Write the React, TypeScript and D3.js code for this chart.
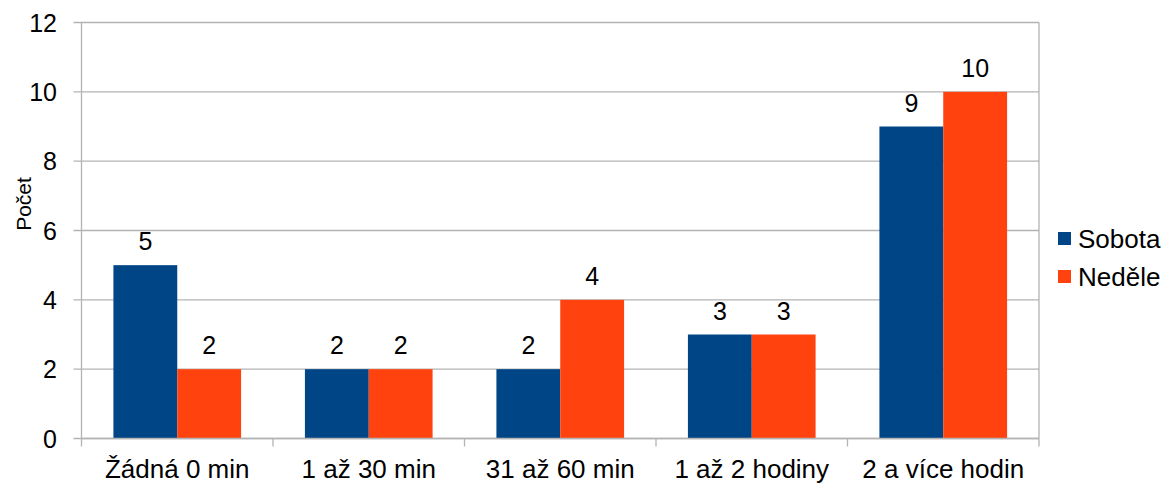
import React from "react";
import * as d3 from "d3";

const categories = ["Žádná 0 min", "1 až 30 min", "31 až 60 min", "1 až 2 hodiny", "2 a více hodin"];
const sobota = [5, 2, 2, 3, 9];
const nedele = [2, 2, 4, 3, 10];
const seriesNames = ["Sobota", "Neděle"];
const yTicks = [0, 2, 4, 6, 8, 10, 12];
const yTitle = "Počet";

const W = 1164;
const H = 484;
const left = 81.5;
const right = 1039;
const top = 22.5;
const bottom = 438.5;
const colors = ["#004586", "#ff420e"];
const grid = "#b3b3b3";
const font = "'Liberation Sans', Arial, sans-serif";

export default function App() {
  const x = d3.scaleBand<string>().domain(categories).range([left, right]).paddingInner(0).paddingOuter(0);
  const y = d3.scaleLinear().domain([0, 12]).range([bottom, top]);
  const bw = x.bandwidth();
  const inner = d3.scaleBand<string>().domain(seriesNames).range([bw / 6, (bw * 5) / 6]);
  const series = [sobota, nedele];

  return (
    <svg width={W} height={H} style={{ position: "absolute", left: 0, top: 0 }} fontFamily={font}>
      <rect width={W} height={H} fill="#fff" />
      {yTicks.map((t) => (
        <g key={t}>
          <line x1={left - 8} x2={right} y1={y(t)} y2={y(t)} stroke={grid} strokeWidth={1.3} />
          <text x={57} y={y(t)} dy="0.36em" textAnchor="end" fontSize={25} fill="#000">
            {t}
          </text>
        </g>
      ))}
      <line x1={left} x2={left} y1={top} y2={bottom} stroke={grid} strokeWidth={1.3} />
      <line x1={right} x2={right} y1={top} y2={bottom} stroke={grid} strokeWidth={1.3} />
      {categories.map((c, i) => (
        <line key={"t" + i} x1={x(c)!} x2={x(c)!} y1={bottom} y2={bottom + 8} stroke={grid} strokeWidth={1.3} />
      ))}
      <line x1={right} x2={right} y1={bottom} y2={bottom + 8} stroke={grid} strokeWidth={1.3} />
      {categories.map((c, i) =>
        series.map((s, k) => {
          const bx = x(c)! + inner(seriesNames[k])!;
          return (
            <g key={c + k}>
              <rect x={bx} y={y(s[i])} width={inner.bandwidth()} height={y(0) - y(s[i])} fill={colors[k]} />
              <text x={bx + inner.bandwidth() / 2} y={y(s[i]) - 15} textAnchor="middle" fontSize={25} fill="#000">
                {s[i]}
              </text>
            </g>
          );
        })
      )}
      <line x1={left} x2={right} y1={bottom} y2={bottom} stroke={grid} strokeWidth={1.3} />
      {categories.map((c) => (
        <text key={c} x={x(c)! + bw / 2} y={478} textAnchor="middle" fontSize={26} fill="#000">
          {c}
        </text>
      ))}
      <text transform={`translate(31,204) rotate(-90)`} textAnchor="middle" fontSize={21} fill="#000">
        {yTitle}
      </text>
      {seriesNames.map((n, k) => (
        <g key={n} transform={`translate(1058,${232 + k * 38})`}>
          <rect width={13} height={13} fill={colors[k]} />
          <text x={20} y={6.5} dy="0.36em" fontSize={26} fill="#000">
            {n}
          </text>
        </g>
      ))}
    </svg>
  );
}
